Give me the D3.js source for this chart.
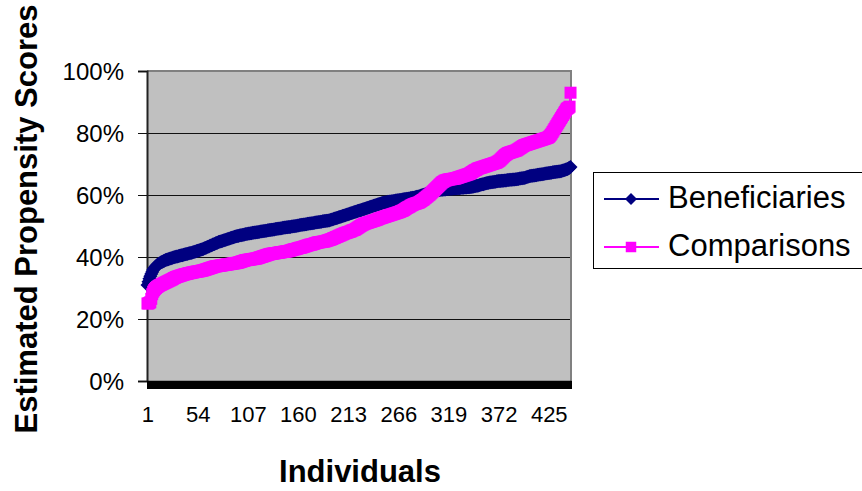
<!DOCTYPE html>
<html>
<head>
<meta charset="utf-8">
<script src="https://cdn.jsdelivr.net/npm/d3@7/dist/d3.min.js"></script>
<style>
  html, body { margin: 0; padding: 0; background: #fff; }
  svg text { font-family: "Liberation Sans", Arial, sans-serif; fill: #000; }
</style>
</head>
<body>
<svg id="chart" width="862" height="491"></svg>
<script>
// Estimated propensity scores (%), each series sorted ascending by individual
const beneficiaries = [
31.0, 32.0, 33.0, 33.8, 34.5, 35.2, 35.8, 36.3, 36.7, 37.0,
37.3, 37.6, 37.8, 38.0, 38.2, 38.4, 38.5, 38.7, 38.8, 39.0,
39.1, 39.2, 39.3, 39.4, 39.5, 39.6, 39.7, 39.8, 39.9, 40.0,
40.1, 40.2, 40.2, 40.3, 40.4, 40.5, 40.6, 40.6, 40.7, 40.8,
40.9, 41.0, 41.0, 41.1, 41.2, 41.3, 41.3, 41.4, 41.5, 41.6,
41.7, 41.8, 41.9, 42.0, 42.1, 42.2, 42.3, 42.4, 42.5, 42.6,
42.8, 42.9, 43.0, 43.2, 43.3, 43.4, 43.6, 43.7, 43.8, 44.0,
44.1, 44.2, 44.4, 44.5, 44.6, 44.8, 44.9, 45.0, 45.1, 45.2,
45.3, 45.4, 45.5, 45.6, 45.7, 45.8, 45.9, 46.0, 46.1, 46.2,
46.3, 46.4, 46.5, 46.6, 46.7, 46.8, 46.8, 46.9, 47.0, 47.0,
47.1, 47.2, 47.2, 47.3, 47.4, 47.4, 47.5, 47.6, 47.6, 47.7,
47.7, 47.8, 47.8, 47.9, 47.9, 48.0, 48.0, 48.1, 48.1, 48.2,
48.2, 48.3, 48.3, 48.4, 48.4, 48.5, 48.5, 48.6, 48.6, 48.7,
48.7, 48.8, 48.8, 48.9, 48.9, 49.0, 49.0, 49.1, 49.1, 49.2,
49.2, 49.3, 49.3, 49.4, 49.4, 49.5, 49.5, 49.6, 49.6, 49.7,
49.7, 49.7, 49.8, 49.8, 49.9, 49.9, 50.0, 50.0, 50.1, 50.2,
50.2, 50.3, 50.3, 50.4, 50.4, 50.5, 50.5, 50.6, 50.6, 50.7,
50.7, 50.8, 50.8, 50.9, 50.9, 51.0, 51.0, 51.1, 51.1, 51.2,
51.2, 51.3, 51.3, 51.4, 51.4, 51.5, 51.5, 51.6, 51.6, 51.7,
51.7, 51.8, 51.8, 51.9, 52.0, 52.1, 52.2, 52.3, 52.4, 52.5,
52.6, 52.7, 52.8, 52.9, 53.0, 53.1, 53.2, 53.3, 53.4, 53.5,
53.6, 53.7, 53.8, 53.9, 54.0, 54.1, 54.2, 54.3, 54.4, 54.5,
54.6, 54.7, 54.8, 54.9, 55.0, 55.1, 55.2, 55.3, 55.4, 55.5,
55.6, 55.7, 55.8, 55.9, 56.0, 56.1, 56.2, 56.3, 56.4, 56.5,
56.6, 56.7, 56.8, 56.9, 57.0, 57.1, 57.2, 57.3, 57.4, 57.5,
57.6, 57.6, 57.7, 57.7, 57.8, 57.8, 57.9, 57.9, 58.0, 58.0,
58.1, 58.1, 58.2, 58.2, 58.3, 58.3, 58.4, 58.4, 58.5, 58.5,
58.6, 58.6, 58.7, 58.7, 58.8, 58.8, 58.9, 58.9, 59.0, 59.0,
59.1, 59.1, 59.2, 59.3, 59.4, 59.4, 59.5, 59.6, 59.7, 59.8,
59.9, 60.0, 60.1, 60.2, 60.3, 60.4, 60.5, 60.6, 60.7, 60.8,
60.9, 61.0, 61.1, 61.2, 61.3, 61.4, 61.5, 61.5, 61.6, 61.6,
61.7, 61.7, 61.7, 61.8, 61.8, 61.8, 61.9, 61.9, 61.9, 62.0,
62.0, 62.0, 62.0, 62.1, 62.1, 62.1, 62.1, 62.2, 62.2, 62.2,
62.2, 62.3, 62.3, 62.3, 62.3, 62.4, 62.4, 62.4, 62.5, 62.5,
62.5, 62.6, 62.6, 62.7, 62.7, 62.8, 62.8, 62.9, 63.0, 63.0,
63.1, 63.2, 63.3, 63.4, 63.5, 63.5, 63.6, 63.7, 63.8, 63.9,
63.9, 64.0, 64.0, 64.1, 64.1, 64.2, 64.2, 64.3, 64.3, 64.4,
64.4, 64.5, 64.5, 64.5, 64.6, 64.6, 64.6, 64.7, 64.7, 64.7,
64.8, 64.8, 64.8, 64.9, 64.9, 64.9, 65.0, 65.0, 65.0, 65.1,
65.1, 65.2, 65.2, 65.3, 65.3, 65.4, 65.4, 65.5, 65.5, 65.6,
65.7, 65.8, 65.9, 66.0, 66.1, 66.1, 66.2, 66.2, 66.3, 66.3,
66.4, 66.4, 66.5, 66.5, 66.6, 66.6, 66.7, 66.7, 66.8, 66.8,
66.9, 66.9, 67.0, 67.0, 67.1, 67.1, 67.2, 67.2, 67.3, 67.3,
67.4, 67.4, 67.5, 67.5, 67.6, 67.6, 67.7, 67.7, 67.8, 67.9,
68.0, 68.1, 68.2, 68.3, 68.4, 68.6, 68.8, 69.0
];

const comparisons = [
25.0, 25.0, 25.2, 25.4, 26.5, 28.0, 28.8, 29.3, 29.7, 30.0,
30.3, 30.5, 30.7, 30.9, 31.0, 31.2, 31.3, 31.5, 31.6, 31.8,
31.9, 32.1, 32.2, 32.4, 32.5, 32.7, 32.8, 33.0, 33.2, 33.3,
33.5, 33.6, 33.7, 33.8, 33.9, 34.0, 34.1, 34.2, 34.3, 34.4,
34.5, 34.5, 34.6, 34.7, 34.8, 34.8, 34.9, 35.0, 35.0, 35.1,
35.2, 35.2, 35.3, 35.3, 35.4, 35.4, 35.5, 35.6, 35.6, 35.7,
35.8, 35.9, 36.0, 36.1, 36.2, 36.3, 36.4, 36.5, 36.6, 36.7,
36.8, 36.9, 37.0, 37.0, 37.1, 37.1, 37.2, 37.2, 37.3, 37.3,
37.4, 37.4, 37.5, 37.5, 37.6, 37.6, 37.7, 37.7, 37.8, 37.8,
37.9, 37.9, 38.0, 38.0, 38.1, 38.1, 38.2, 38.3, 38.4, 38.5,
38.6, 38.7, 38.8, 38.9, 39.0, 39.0, 39.1, 39.1, 39.2, 39.2,
39.3, 39.3, 39.4, 39.4, 39.5, 39.5, 39.6, 39.7, 39.8, 39.9,
40.0, 40.1, 40.2, 40.3, 40.4, 40.5, 40.6, 40.7, 40.8, 40.9,
41.0, 41.0, 41.1, 41.1, 41.2, 41.2, 41.3, 41.3, 41.4, 41.4,
41.5, 41.5, 41.6, 41.6, 41.7, 41.7, 41.8, 41.8, 41.9, 41.9,
42.0, 42.1, 42.2, 42.3, 42.4, 42.5, 42.5, 42.6, 42.7, 42.8,
42.9, 43.0, 43.0, 43.1, 43.2, 43.3, 43.4, 43.5, 43.6, 43.7,
43.8, 43.9, 44.0, 44.0, 44.1, 44.2, 44.3, 44.4, 44.5, 44.6,
44.7, 44.7, 44.8, 44.8, 44.9, 44.9, 45.0, 45.0, 45.1, 45.2,
45.3, 45.4, 45.5, 45.6, 45.7, 45.8, 46.0, 46.1, 46.2, 46.4,
46.5, 46.6, 46.8, 46.9, 47.0, 47.2, 47.3, 47.4, 47.6, 47.7,
47.8, 47.9, 48.0, 48.1, 48.2, 48.3, 48.5, 48.6, 48.7, 48.8,
49.0, 49.2, 49.4, 49.6, 49.8, 50.0, 50.2, 50.4, 50.5, 50.7,
50.8, 50.9, 51.0, 51.1, 51.2, 51.3, 51.4, 51.5, 51.6, 51.7,
51.8, 51.9, 52.0, 52.1, 52.3, 52.4, 52.5, 52.6, 52.7, 52.8,
52.9, 53.0, 53.1, 53.2, 53.3, 53.4, 53.5, 53.6, 53.7, 53.8,
53.9, 54.0, 54.1, 54.2, 54.3, 54.4, 54.5, 54.6, 54.8, 54.9,
55.0, 55.2, 55.4, 55.6, 55.8, 56.0, 56.1, 56.3, 56.5, 56.7,
56.8, 57.0, 57.1, 57.2, 57.3, 57.4, 57.5, 57.6, 57.8, 58.0,
58.2, 58.4, 58.6, 58.9, 59.1, 59.4, 59.6, 59.9, 60.1, 60.4,
60.7, 61.0, 61.3, 61.6, 61.9, 62.2, 62.5, 62.8, 63.1, 63.4,
63.7, 64.0, 64.2, 64.4, 64.6, 64.7, 64.8, 64.9, 65.0, 65.0,
65.1, 65.1, 65.2, 65.2, 65.3, 65.3, 65.4, 65.5, 65.6, 65.7,
65.8, 65.9, 66.0, 66.1, 66.2, 66.3, 66.4, 66.5, 66.6, 66.7,
66.8, 67.0, 67.2, 67.4, 67.6, 67.8, 68.0, 68.1, 68.3, 68.5,
68.6, 68.7, 68.8, 68.9, 69.0, 69.1, 69.2, 69.3, 69.4, 69.5,
69.6, 69.7, 69.8, 69.9, 70.0, 70.1, 70.2, 70.3, 70.4, 70.5,
70.7, 70.9, 71.1, 71.4, 71.7, 72.0, 72.3, 72.6, 72.9, 73.1,
73.3, 73.5, 73.6, 73.7, 73.8, 73.9, 74.0, 74.1, 74.2, 74.3,
74.4, 74.6, 74.8, 75.0, 75.2, 75.4, 75.6, 75.8, 76.0, 76.1,
76.2, 76.3, 76.4, 76.5, 76.6, 76.7, 76.8, 76.9, 77.0, 77.1,
77.2, 77.3, 77.4, 77.5, 77.6, 77.7, 77.8, 77.9, 78.0, 78.1,
78.2, 78.3, 78.4, 78.5, 78.7, 79.0, 79.4, 79.8, 80.3, 80.8,
81.3, 81.8, 82.3, 82.8, 83.3, 83.8, 84.3, 84.8, 85.3, 85.8,
86.3, 86.8, 87.3, 87.8, 88.0, 88.2, 88.5, 93.0
];

// Category labels shown under the axis (every 53rd individual)
const xTickLabels = ["1", "54", "107", "160", "213", "266", "319", "372", "425"];
const yTickValues = [0, 20, 40, 60, 80, 100];

const seriesNames = ["Beneficiaries", "Comparisons"];
const seriesColors = ["#000080", "#FF00FF"];

const N = Math.max(beneficiaries.length, comparisons.length);

const svg = d3.select("#chart");
const plot = { left: 147, right: 571, top: 71, bottom: 381 };

// Category axis: one slot per individual
const x = d3.scaleLinear().domain([0, N]).range([plot.left, plot.right]);
const xc = i => x(i + 0.5);
const y = d3.scaleLinear().domain([0, 100]).range([plot.bottom, plot.top]);

// Square-rotated diamond and plain square markers (size = area)
const diamond = {
  draw(ctx, size) {
    const r = Math.sqrt(size / 2);
    ctx.moveTo(0, -r); ctx.lineTo(r, 0); ctx.lineTo(0, r); ctx.lineTo(-r, 0); ctx.closePath();
  }
};
const symbols = [diamond, d3.symbolSquare];
const symbolSizes = [98, 144];

// Plot background
svg.append("rect")
  .attr("x", plot.left).attr("y", plot.top)
  .attr("width", plot.right - plot.left).attr("height", plot.bottom - plot.top)
  .attr("fill", "#C0C0C0");

// Horizontal gridlines
svg.append("g")
  .selectAll("line")
  .data(yTickValues.filter(v => v > 0 && v < 100))
  .join("line")
  .attr("x1", plot.left).attr("x2", plot.right)
  .attr("y1", d => Math.round(y(d)) + 0.5).attr("y2", d => Math.round(y(d)) + 0.5)
  .attr("stroke", "#111").attr("stroke-width", 1);

// Plot frame (top and right)
svg.append("path")
  .attr("d", `M${plot.left},${plot.top} H${plot.right} V${plot.bottom}`)
  .attr("fill", "none").attr("stroke", "#808080").attr("stroke-width", 2);

// Y axis
const yAxis = svg.append("g")
  .attr("transform", `translate(${plot.left},0)`)
  .call(d3.axisLeft(y).tickValues(yTickValues).tickSize(9).tickPadding(14)
    .tickFormat(d => d + "%"));
yAxis.select(".domain").attr("stroke", "#222").attr("stroke-width", 2);
yAxis.selectAll(".tick line").attr("stroke", "#111");
yAxis.selectAll(".tick text")
  .attr("font-size", 24).attr("font-family", "Liberation Sans, Arial, sans-serif")
  .attr("dy", "0.36em");

// X axis: a tick between every individual
const xAxis = svg.append("g")
  .attr("transform", `translate(0,${plot.bottom})`)
  .call(d3.axisBottom(x).tickValues(d3.range(0, N + 1)).tickSize(8).tickSizeOuter(0)
    .tickFormat(""));
xAxis.select(".domain").attr("stroke", "#000").attr("stroke-width", 1.5);
xAxis.selectAll(".tick line").attr("stroke", "#000").attr("stroke-width", 1)
  .attr("shape-rendering", "crispEdges");

// X labels at the centre of the labelled categories
const labelIdx = xTickLabels.map(s => +s - 1);
const xLab = svg.append("g")
  .attr("transform", `translate(0,${plot.bottom})`)
  .call(d3.axisBottom(x)
    .tickValues(labelIdx.map(i => i + 0.5)).tickSize(0)
    .tickFormat((d, k) => xTickLabels[k]));
xLab.select(".domain").remove();
xLab.selectAll(".tick text")
  .attr("font-size", 22).attr("font-family", "Liberation Sans, Arial, sans-serif")
  .attr("y", 41).attr("dy", 0);

// Series: connecting line plus a marker at each individual
[beneficiaries, comparisons].forEach((vals, s) => {
  const g = svg.append("g");
  g.append("path")
    .datum(vals)
    .attr("d", d3.line().x((d, i) => xc(i)).y(d => y(d)))
    .attr("fill", "none").attr("stroke", seriesColors[s]).attr("stroke-width", 2);
  g.selectAll("path.m")
    .data(vals)
    .join("path")
    .attr("class", "m")
    .attr("transform", (d, i) => `translate(${xc(i)},${y(d)})`)
    .attr("d", d3.symbol().type(symbols[s]).size(symbolSizes[s]))
    .attr("fill", seriesColors[s]);
});

// Axis titles
svg.append("text")
  .attr("transform", "translate(37,219) rotate(-90)")
  .attr("text-anchor", "middle")
  .attr("font-size", 31).attr("font-weight", "bold")
  .text("Estimated Propensity Scores");

svg.append("text")
  .attr("x", 360).attr("y", 482)
  .attr("text-anchor", "middle")
  .attr("font-size", 31).attr("font-weight", "bold")
  .text("Individuals");

// Legend
const legend = svg.append("g");
legend.append("rect")
  .attr("x", 593.5).attr("y", 172.5).attr("width", 280).attr("height", 96)
  .attr("fill", "#fff").attr("stroke", "#000").attr("stroke-width", 1);
const rowsY = [199, 247];
seriesNames.forEach((name, s) => {
  legend.append("line")
    .attr("x1", 604).attr("x2", 659).attr("y1", rowsY[s]).attr("y2", rowsY[s])
    .attr("stroke", seriesColors[s]).attr("stroke-width", 2);
  legend.append("path")
    .attr("transform", `translate(631,${rowsY[s]})`)
    .attr("d", d3.symbol().type(symbols[s]).size(s === 0 ? 72 : 110))
    .attr("fill", seriesColors[s]);
  legend.append("text")
    .attr("x", 668).attr("y", rowsY[s] + 9)
    .attr("font-size", 31)
    .text(name);
});
</script>
</body>
</html>
